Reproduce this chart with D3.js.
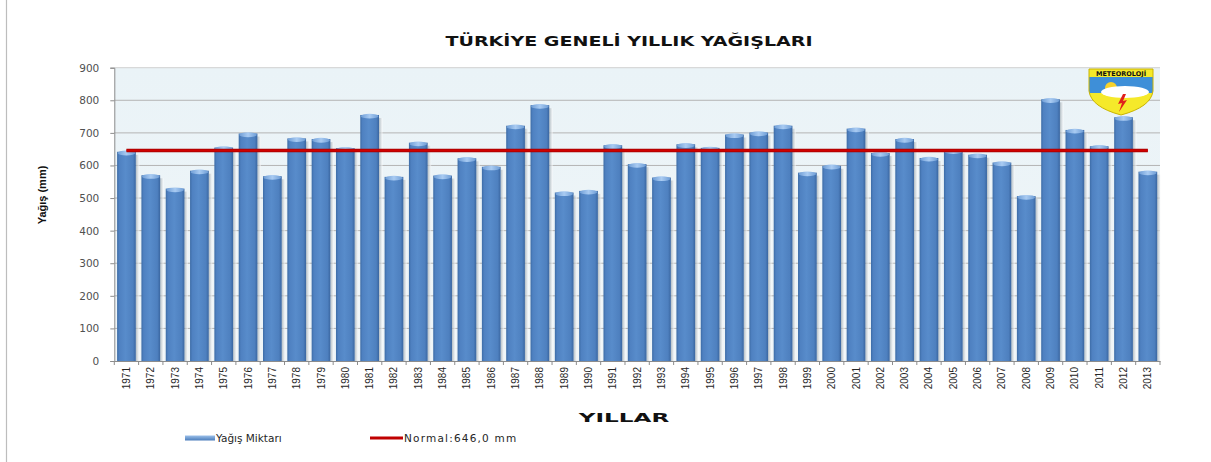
<!DOCTYPE html>
<html><head><meta charset="utf-8">
<script src="https://cdn.jsdelivr.net/npm/d3@7"></script>
<style>body{margin:0;background:#fff;} svg{display:block;}</style>
</head><body>
<script>
const years = [1971,1972,1973,1974,1975,1976,1977,1978,1979,1980,1981,1982,1983,1984,1985,1986,1987,1988,1989,1990,1991,1992,1993,1994,1995,1996,1997,1998,1999,2000,2001,2002,2003,2004,2005,2006,2007,2008,2009,2010,2011,2012,2013];
const rainfall = [642,570,529,584,655,698,567,683,681,653,755,565,670,569,622,596,722,785,517,522,662,604,563,665,654,695,701,722,578,599,713,638,681,623,646,633,609,506,803,709,659,748,581];
const normalValue = 646.0;
const yTicks = [0,100,200,300,400,500,600,700,800,900];
const title = "TÜRKİYE GENELİ YILLIK YAĞIŞLARI";
const yTitle = "Yağış (mm)";
const xTitle = "YILLAR";
const legendBar = "Yağış Miktarı";
const legendLine = "Normal:646,0 mm";

const W = 1211, H = 462;
const m = {left:114.3, right:1160, top:67.7, bottom:361};
const svg = d3.select("body").append("svg").attr("width",W).attr("height",H);
const defs = svg.append("defs");

const bg = defs.append("linearGradient").attr("id","bg").attr("x1",0).attr("y1",0).attr("x2",0).attr("y2",1);
bg.append("stop").attr("offset","0%").attr("stop-color","#EAF3F7");
bg.append("stop").attr("offset","100%").attr("stop-color","#EFF5F8");

const bar = defs.append("linearGradient").attr("id","bar").attr("x1",0).attr("y1",0).attr("x2",1).attr("y2",0);
bar.append("stop").attr("offset","0%").attr("stop-color","#3D6CA6");
bar.append("stop").attr("offset","12%").attr("stop-color","#4F81C1");
bar.append("stop").attr("offset","45%").attr("stop-color","#588CCB");
bar.append("stop").attr("offset","85%").attr("stop-color","#4E80BF");
bar.append("stop").attr("offset","100%").attr("stop-color","#3A66A0");

const cap = defs.append("linearGradient").attr("id","cap").attr("x1",0).attr("y1",0).attr("x2",1).attr("y2",0);
cap.append("stop").attr("offset","0%").attr("stop-color","#6E9DD6");
cap.append("stop").attr("offset","50%").attr("stop-color","#A9CBF2");
cap.append("stop").attr("offset","100%").attr("stop-color","#6E9DD6");

const sh = defs.append("linearGradient").attr("id","sh").attr("x1",0).attr("y1",0).attr("x2",1).attr("y2",0);
sh.append("stop").attr("offset","0%").attr("stop-color","#9AA6AE").attr("stop-opacity",0.7);
sh.append("stop").attr("offset","100%").attr("stop-color","#FFFFFF").attr("stop-opacity",0.6);

const lg = defs.append("linearGradient").attr("id","lg").attr("x1",0).attr("y1",0).attr("x2",0).attr("y2",1);
lg.append("stop").attr("offset","0%").attr("stop-color","#9CC0EA");
lg.append("stop").attr("offset","100%").attr("stop-color","#4A7CBB");

// outer frame left line
svg.append("line").attr("x1",6.5).attr("x2",6.5).attr("y1",0).attr("y2",H).attr("stroke","#BDBDBD").attr("stroke-width",1.2);

const x = d3.scaleBand().domain(years).range([m.left,m.right]).paddingInner(0.23).paddingOuter(0.115);
const y = d3.scaleLinear().domain([0,900]).range([m.bottom,m.top]);

svg.append("rect").attr("x",m.left).attr("y",m.top).attr("width",m.right-m.left).attr("height",m.bottom-m.top).attr("fill","url(#bg)");

// grid
svg.append("g").selectAll("line").data(yTicks.filter(d=>d>0)).join("line")
  .attr("x1",m.left).attr("x2",m.right).attr("y1",d=>y(d)).attr("y2",d=>y(d))
  .attr("stroke",d=>d===900?"#D0D0D0":"#B4B4B4").attr("stroke-width",1);

// y axis
const ya = svg.append("g").attr("transform",`translate(${m.left},0)`)
  .call(d3.axisLeft(y).tickValues(yTicks).tickSize(4).tickPadding(11));
ya.select(".domain").attr("stroke","#8C8C8C");
ya.selectAll(".tick line").attr("stroke","#8C8C8C");
ya.selectAll(".tick text").attr("font-family","DejaVu Sans, Verdana, sans-serif").attr("font-size",10.5).attr("fill","#505050");

// bar shadows
svg.append("g").selectAll("rect").data(years).join("rect")
  .attr("x",(d,i)=>x(d)+x.bandwidth()).attr("y",(d,i)=>y(rainfall[i])+3)
  .attr("width",3.5).attr("height",(d,i)=>m.bottom-y(rainfall[i])-3).attr("fill","url(#sh)");

// bars
svg.append("g").selectAll("rect").data(years).join("rect")
  .attr("x",d=>x(d)).attr("y",(d,i)=>y(rainfall[i]))
  .attr("width",x.bandwidth()).attr("height",(d,i)=>m.bottom-y(rainfall[i]))
  .attr("fill","url(#bar)");
svg.append("g").selectAll("ellipse").data(years).join("ellipse")
  .attr("cx",d=>x(d)+x.bandwidth()/2).attr("cy",(d,i)=>y(rainfall[i])+1.2)
  .attr("rx",x.bandwidth()/2-0.5).attr("ry",2.4).attr("fill","url(#cap)");

// x axis
const xa = svg.append("g").attr("transform",`translate(0,${m.bottom})`)
  .call(d3.axisBottom(x).tickSize(0).tickPadding(0));
xa.select(".domain").attr("stroke","#8C8C8C");
xa.selectAll(".tick text").attr("transform","rotate(-90)").attr("text-anchor","end")
  .attr("x",-6).attr("y",0).attr("dy","0.35em")
  .attr("font-family","Liberation Sans Narrow, Arial Narrow, sans-serif").attr("font-size",10).attr("fill","#262626");
const step = x.step();
svg.append("g").selectAll("line").data(d3.range(years.length+1)).join("line")
  .attr("x1",i=>m.left+i*step).attr("x2",i=>m.left+i*step)
  .attr("y1",m.bottom).attr("y2",m.bottom+4).attr("stroke","#8C8C8C");

// normal line
const line = d3.line().x(d=>x(d)+x.bandwidth()/2).y(()=>y(normalValue));
svg.append("path").datum([years[0],years[years.length-1]]).attr("d",line)
  .attr("stroke","#A00000").attr("stroke-width",3.4).attr("fill","none");
svg.append("path").datum([years[0],years[years.length-1]]).attr("d",line)
  .attr("stroke","#D00000").attr("stroke-width",2).attr("fill","none");

// logo
const lgG = svg.append("g").attr("transform","translate(1089,69)");
defs.append("clipPath").attr("id","shield").append("path").attr("d","M0,0 H64 V22 Q62,38 32,46 Q2,38 0,22 Z");
const lc = lgG.append("g").attr("clip-path","url(#shield)");
lc.append("rect").attr("x",0).attr("y",0).attr("width",64).attr("height",50).attr("fill","#F5E92A");
lc.append("rect").attr("x",0).attr("y",8).attr("width",64).attr("height",16).attr("fill","#3E8FD8");
lc.append("circle").attr("cx",22).attr("cy",19).attr("r",6).attr("fill","#F8D22A");
lc.append("ellipse").attr("cx",36).attr("cy",23).attr("rx",24).attr("ry",6).attr("fill","#FFFFFF");
lc.append("path").attr("d","M34,25 L29,35 L33,34 L30,43 L38,31 L34,32 L37,25 Z").attr("fill","#E0201C");
lgG.append("path").attr("d","M0,0 H64 V22 Q62,38 32,46 Q2,38 0,22 Z").attr("fill","none").attr("stroke","#C9B400").attr("stroke-width",1);
lgG.append("text").attr("x",32).attr("y",7).attr("text-anchor","middle").attr("font-family","DejaVu Sans, sans-serif")
  .attr("font-weight","bold").attr("font-size",6.5).attr("fill","#111").text("METEOROLOJİ");

// texts
svg.append("text").attr("transform","translate(629,46) scale(1.36,1)").attr("text-anchor","middle")
  .attr("font-family","DejaVu Sans, Verdana, sans-serif").attr("font-weight","bold").attr("font-size",14).attr("fill","#111").text(title);
svg.append("text").attr("transform","translate(46,195) rotate(-90)").attr("text-anchor","middle")
  .attr("font-family","Liberation Sans Narrow, Arial Narrow, sans-serif").attr("font-weight","bold").attr("font-size",11).attr("fill","#111").text(yTitle);
svg.append("text").attr("transform","translate(624,422) scale(1.85,1)").attr("text-anchor","middle")
  .attr("font-family","DejaVu Sans, Verdana, sans-serif").attr("font-weight","bold").attr("font-size",12.5).attr("fill","#111").text(xTitle);

// legend
svg.append("rect").attr("x",185).attr("y",435.5).attr("width",30).attr("height",5).attr("fill","url(#lg)");
svg.append("text").attr("x",216).attr("y",442).attr("font-family","DejaVu Sans, Verdana, sans-serif").attr("font-size",10.5).attr("fill","#262626").text(legendBar);
svg.append("line").attr("x1",370).attr("x2",403).attr("y1",438).attr("y2",438).attr("stroke","#C00000").attr("stroke-width",3);
svg.append("text").attr("x",404).attr("y",442).attr("font-family","DejaVu Sans, Verdana, sans-serif").attr("font-size",10.5).attr("letter-spacing",1.2).attr("fill","#262626").text(legendLine);
</script>
</body></html>
